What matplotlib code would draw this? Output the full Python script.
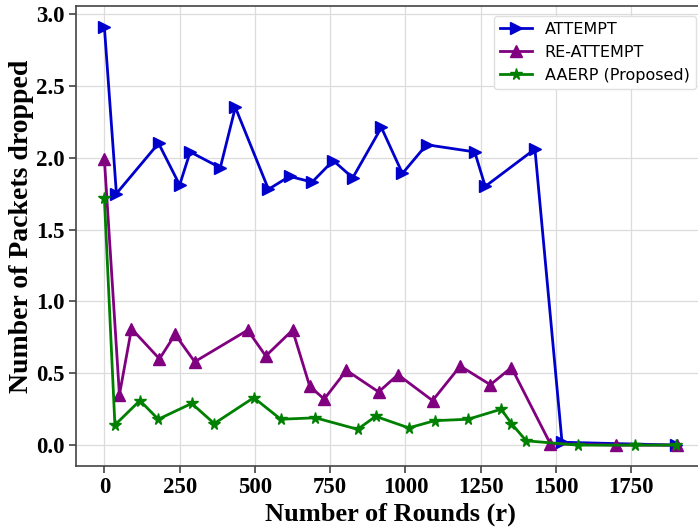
import numpy as np
import matplotlib.pyplot as plt

# rounds and dropped packets
attempt_x = [0, 40, 180, 250, 285, 385, 435, 545, 615, 690, 760, 825, 920, 990,
             1070, 1230, 1265, 1430, 1520, 1900]
attempt_y = [2.91, 1.75, 2.10, 1.81, 2.04, 1.93, 2.35, 1.78, 1.87, 1.83, 1.98,
             1.86, 2.21, 1.89, 2.09, 2.04, 1.80, 2.06, 0.02, 0.0]

reattempt_x = [0, 50, 90, 183, 235, 300, 476, 536, 625, 682, 730, 804, 911, 975,
               1090, 1182, 1282, 1352, 1481, 1698, 1902]
reattempt_y = [1.99, 0.35, 0.81, 0.60, 0.77, 0.58, 0.80, 0.62, 0.80, 0.41, 0.32,
               0.52, 0.37, 0.49, 0.31, 0.55, 0.42, 0.54, 0.01, 0.0, 0.0]

aaerp_x = [0, 35, 118, 179, 290, 365, 496, 586, 701, 841, 901, 1011, 1097, 1208,
           1318, 1352, 1401, 1572, 1764, 1897]
aaerp_y = [1.72, 0.14, 0.31, 0.18, 0.29, 0.15, 0.33, 0.18, 0.19, 0.11, 0.20, 0.12,
           0.17, 0.18, 0.25, 0.15, 0.03, 0.0, 0.0, 0.0]

plt.rcParams['font.family'] = ['Liberation Serif', 'DejaVu Serif']

fig = plt.figure(figsize=(6.98, 5.27), dpi=100)
ax = fig.add_axes([0.1085, 0.1157, 0.9025, 0.873])

ax.plot(attempt_x, attempt_y, color='#0000cc', marker='>', markersize=9,
        linewidth=2.0, label='ATTEMPT')
ax.plot(reattempt_x, reattempt_y, color='#800080', marker='^', markersize=8.5,
        linewidth=2.0, label='RE-ATTEMPT')
ax.plot(aaerp_x, aaerp_y, color='#008000', marker='*', markersize=8.5,
        linewidth=2.0, label='AAERP (Proposed)')

ax.set_xticks([0, 250, 500, 750, 1000, 1250, 1500, 1750])
ax.set_yticks([0.0, 0.5, 1.0, 1.5, 2.0, 2.5, 3.0])
ax.set_yticklabels(['0.0', '0.5', '1.0', '1.5', '2.0', '2.5', '3.0'])
for lab in ax.get_xticklabels() + ax.get_yticklabels():
    lab.set_fontsize(16.5)
    lab.set_fontweight('bold')

ax.set_xlabel('Number of Rounds (r)', fontsize=19, fontweight='bold', labelpad=3)
ax.set_ylabel('Number of Packets dropped', fontsize=20, fontweight='bold')
ax.yaxis.set_label_coords(-0.067, 0.52)

ax.grid(True, color='#dcdcdc', linewidth=0.9)
for s in ax.spines.values():
    s.set_color('#444444')
    s.set_linewidth(1.2)
ax.tick_params(colors='#333333', length=5, width=1.1, pad=3)
for lab in ax.get_xticklabels() + ax.get_yticklabels():
    lab.set_color('black')

leg = ax.legend(loc='upper right', prop={'family': 'DejaVu Sans', 'size': 11.5},
                fancybox=True, framealpha=1.0, borderaxespad=0.6)
leg.get_frame().set_edgecolor('#e0e0e0')

fig.savefig('out.png', dpi=100)
